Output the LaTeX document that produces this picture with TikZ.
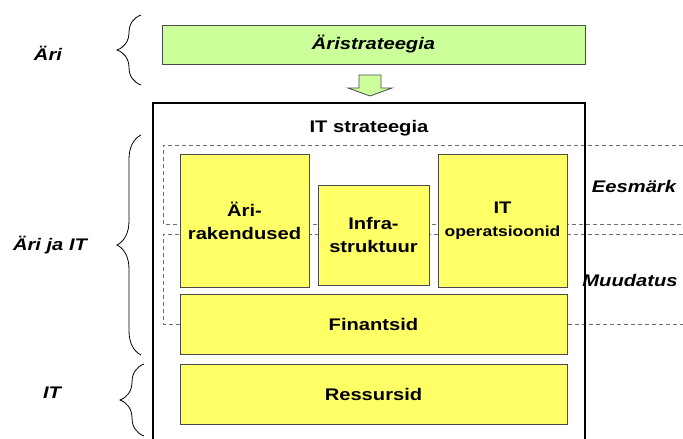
\documentclass[tikz,border=0pt]{standalone}
\usepackage{fontspec}
\setmainfont[FakeStretch=1.2]{Liberation Sans}
\usetikzlibrary{decorations.pathreplacing}
\definecolor{boxyellow}{HTML}{FFFF66}
\definecolor{boxgreen}{HTML}{CCFF99}
\definecolor{edgegray}{HTML}{4A4A4A}
\definecolor{dashgray}{HTML}{707070}
\begin{document}
\begin{tikzpicture}[x=1pt,y=-1pt,
  lbl/.style={font=\fontsize{16.8}{20}\selectfont\bfseries\itshape, inner sep=0pt},
  txt/.style={font=\fontsize{16.8}{23}\selectfont\bfseries, align=center, inner sep=0pt},
  ybox/.style={draw=edgegray, line width=0.9pt, fill=boxyellow, inner sep=0pt,
    font=\fontsize{16.8}{23}\selectfont\bfseries, align=center},
  gbox/.style={draw=edgegray, line width=0.9pt, fill=boxgreen, inner sep=0pt},
  zone/.style={draw=dashgray, line width=0.9pt, dash pattern=on 4pt off 3pt},
  curly/.style={draw, line width=0.8pt, decorate, decoration={brace, amplitude=24pt, aspect=0.5}}
]
\useasboundingbox (0,0) rectangle (683,439);

% business strategy bar and block arrow below it
\node[gbox, minimum width=423pt, minimum height=39pt] (biz) at (373.5,44.5)
  {\fontsize{16.8}{20}\selectfont\bfseries\itshape Äristrateegia};
\coordinate (arr) at (370,75);
\filldraw[fill=boxgreen, draw=edgegray, line width=0.8pt]
  (arr) ++(-11,0) -- ++(22,0) -- ++(0,13) -- ++(11,0) -- (370,96)
  -- (348,88) -- (359,88) -- cycle;

% IT strategy frame
\draw[line width=2pt] (153,439) -- (153,103) -- (585,103) -- (585,439);
\node[txt] (itstrat) at (369,128) {IT strateegia};

% dashed zones (open towards the right edge)
\draw[zone] (683,145) -- (163,145) -- (163,224) -- (683,224);
\draw[zone] (683,234) -- (163,234) -- (163,324) -- (683,324);
\node[lbl] (goal) at (634,186) {Eesmärk};
\node[lbl] (change) at (630,280) {Muudatus};

% building blocks
\node[ybox, minimum width=129pt, minimum height=133pt] (apps) at (244.5,220.5) {Äri-\\rakendused};
\node[ybox, minimum width=111pt, minimum height=100pt] (infra) at (373.5,235) {Infra-\\struktuur};
\node[ybox, minimum width=129pt, minimum height=133pt] (ops) at (502.5,220.5)
  {IT\\{\fontsize{14.6}{20}\selectfont operatsioonid}};
\node[ybox, minimum width=387pt, minimum height=60pt] (fin) at (373.5,324) {Finantsid};
\node[ybox, minimum width=387pt, minimum height=60pt] (res) at (373.5,394) {Ressursid};

% frame line drawn over the dashed zones
\draw[line width=2pt] (585,103) -- (585,439);

% side braces with their labels
\draw[curly] (141,85) -- (141,15);
\node[lbl] (lbiz) at (48,53) {Äri};
\draw[curly] (141,355) -- (141,135);
\node[lbl] (lboth) at (50,245) {Äri ja IT};
\draw[curly] (144,436) -- (144,364);
\node[lbl] (lit) at (52,393) {IT};
\end{tikzpicture}
\end{document}
